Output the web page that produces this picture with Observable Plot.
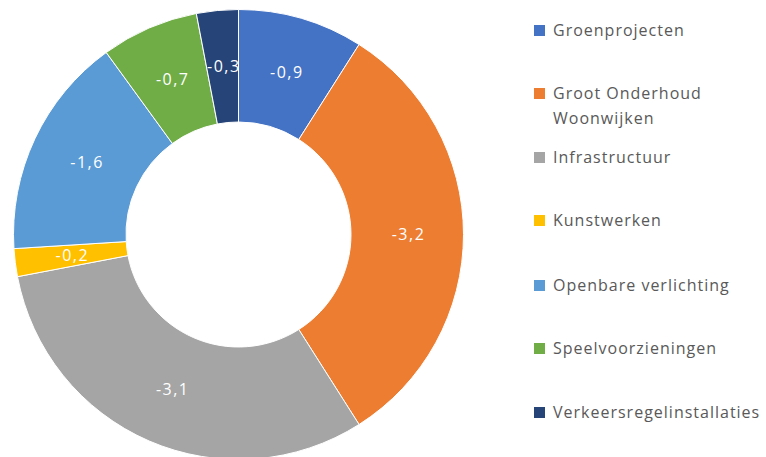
<!DOCTYPE html>
<html>
<head>
<meta charset="utf-8">
<script src="https://cdn.jsdelivr.net/npm/d3@7"></script>
<script src="https://cdn.jsdelivr.net/npm/@observablehq/plot@0.6"></script>
<style>
  html, body { margin: 0; padding: 0; background: #fff; }
  #wrap { position: relative; width: 766px; height: 457px; overflow: hidden; }
  #chart { position: absolute; left: 0; top: 0; }
  #legend { position: absolute; left: 534px; top: 0; font-family: "Open Sans", sans-serif; font-size: 16px; letter-spacing: 1px; color: #595959; }
  .item { position: absolute; left: 0; white-space: nowrap; line-height: 25px; }
  .sw { position: absolute; left: 0; width: 11px; height: 11px; }
  .lab { position: absolute; left: 19px; top: 0; }
</style>
</head>
<body>
<div id="wrap"><div id="chart"></div><div id="legend"></div></div>
<script>
const categories = ["Groenprojecten", "Groot Onderhoud Woonwijken", "Infrastructuur", "Kunstwerken", "Openbare verlichting", "Speelvoorzieningen", "Verkeersregelinstallaties"];
const legendLines = [["Groenprojecten"], ["Groot Onderhoud", "Woonwijken"], ["Infrastructuur"], ["Kunstwerken"], ["Openbare verlichting"], ["Speelvoorzieningen"], ["Verkeersregelinstallaties"]];
const values = [-0.9, -3.2, -3.1, -0.2, -1.6, -0.7, -0.3];
const labels = ["-0,9", "-3,2", "-3,1", "-0,2", "-1,6", "-0,7", "-0,3"];
const colors = ["#4472C4", "#ED7D31", "#A5A5A5", "#FFC000", "#5B9BD5", "#70AD47", "#264478"];

const innerRatio = 0.5;
const data = categories.map((c, i) => ({category: c, value: values[i], label: labels[i]}));
const pie = d3.pie().sort(null).value(d => Math.abs(d.value))(data);
const labelR = 0.75;
const labelData = pie.map(p => {
  const a = (p.startAngle + p.endAngle) / 2;
  return {label: p.data.label, category: p.data.category, x: labelR * Math.sin(a), y: labelR * Math.cos(a)};
});

function donut(index, scales) {
  const cx = scales.x(0), cy = scales.y(0);
  const R = Math.abs(scales.x(1) - scales.x(0));
  const arc = d3.arc().outerRadius(R).innerRadius(R * innerRatio);
  const g = d3.create("svg:g").attr("transform", `translate(${cx},${cy})`);
  g.selectAll("path").data(pie).join("path")
    .attr("d", arc)
    .attr("fill", d => scales.color(d.data.category))
    .attr("stroke", "#fff")
    .attr("stroke-width", 1);
  return g.node();
}

const cx = 238.5, cy = 234.5, R = 225;
const plot = Plot.plot({
  width: 480,
  height: 457,
  margin: 0,
  x: {domain: [-1, 1], range: [cx - R, cx + R], axis: null},
  y: {domain: [-1, 1], range: [cy + R, cy - R], axis: null},
  color: {domain: categories, range: colors},
  style: {fontFamily: "'Open Sans', sans-serif", background: "#fff", overflow: "visible"},
  marks: [
    donut,
    Plot.text(labelData, {x: "x", y: "y", text: "label", fill: "#fff", fontSize: 16, dx: 0.75, style: "letter-spacing:1.5px"})
  ]
});
plot.querySelectorAll("text").forEach(t => t.style.letterSpacing = "1.5px");
document.getElementById("chart").appendChild(plot);

const color = plot.scale("color");
const legendTops = [30, 93, 157, 220, 285, 348, 412];
const legend = document.getElementById("legend");
categories.forEach((c, i) => {
  const item = document.createElement("div");
  item.className = "item";
  item.style.top = (legendTops[i] - 12.5) + "px";
  const sw = document.createElement("div");
  sw.className = "sw";
  sw.style.top = "7px";
  sw.style.background = color.range[i];
  const lab = document.createElement("div");
  lab.className = "lab";
  lab.innerHTML = legendLines[i].join("<br>");
  item.appendChild(sw); item.appendChild(lab);
  legend.appendChild(item);
});
</script>
</body>
</html>
